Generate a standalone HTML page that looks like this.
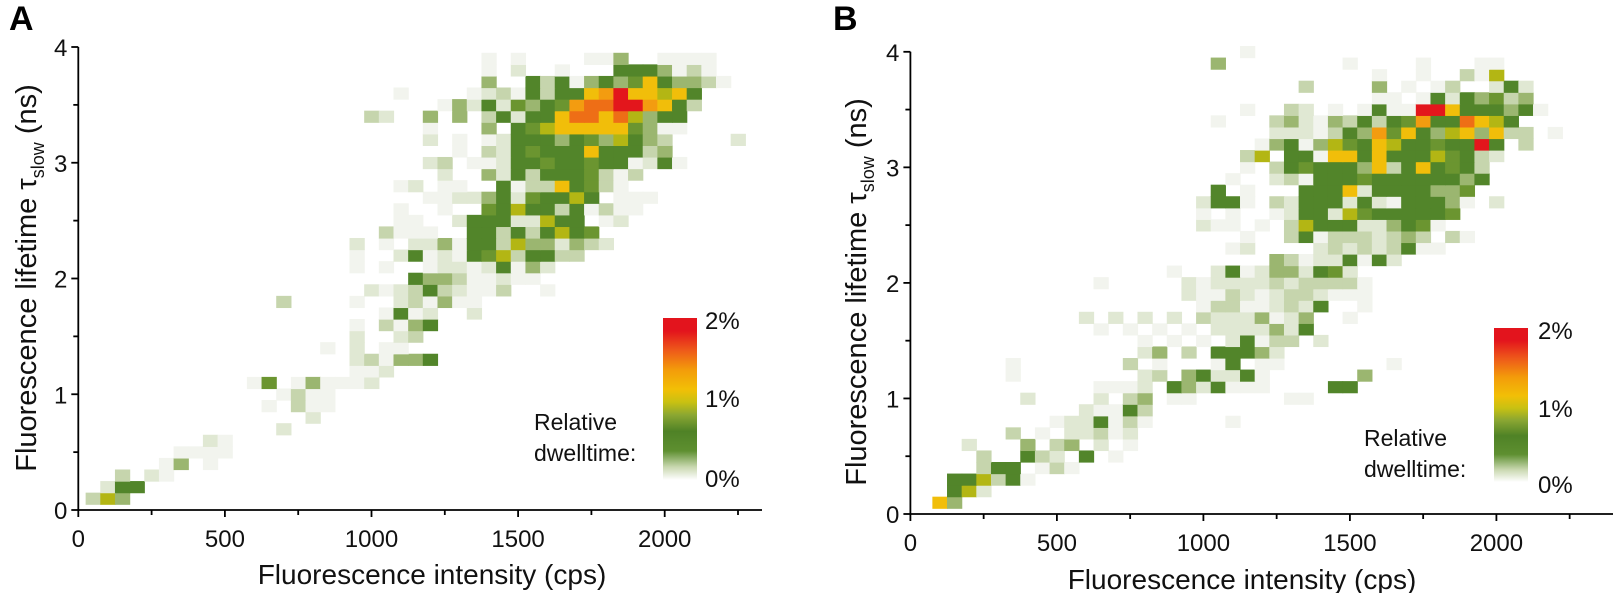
<!DOCTYPE html>
<html><head><meta charset="utf-8"><style>
html,body{margin:0;padding:0;background:#fff;}
svg{display:block;font-family:"Liberation Sans",Arial,sans-serif;}
</style></head><body>
<svg id="s" width="1613" height="593" viewBox="0 0 1613 593" xmlns="http://www.w3.org/2000/svg">
<defs>
<linearGradient id="cb" x1="0" y1="1" x2="0" y2="0">
<stop offset="0" stop-color="#ffffff"/>
<stop offset="0.08" stop-color="#c9d8b0"/>
<stop offset="0.18" stop-color="#5e8f30"/>
<stop offset="0.30" stop-color="#4f8226"/>
<stop offset="0.40" stop-color="#8aa632"/>
<stop offset="0.48" stop-color="#c8c112"/>
<stop offset="0.56" stop-color="#f2bf06"/>
<stop offset="0.68" stop-color="#f39c0a"/>
<stop offset="0.80" stop-color="#ee5a1a"/>
<stop offset="0.92" stop-color="#e3141d"/>
<stop offset="1" stop-color="#e3141d"/>
</linearGradient>
</defs>
<g id="cellsA"></g><g id="cellsB"></g>
<g id="axes" stroke="#000" stroke-width="1.8" fill="none"></g>
<g id="txt" fill="#111"></g>
<text x="9" y="30" font-size="34" font-weight="bold" fill="#000">A</text>
<text x="833" y="30" font-size="34" font-weight="bold" fill="#000">B</text>
<rect x="663" y="318" width="34" height="162" fill="url(#cb)"/>
<rect x="1494" y="328" width="34" height="154" fill="url(#cb)"/>
<g font-size="24" fill="#111">
<text x="705" y="329">2%</text><text x="705" y="407">1%</text><text x="705" y="487">0%</text>
<text x="534" y="430" font-size="23">Relative</text><text x="534" y="461" font-size="23">dwelltime:</text>
<text x="1538" y="339">2%</text><text x="1538" y="417">1%</text><text x="1538" y="493">0%</text>
<text x="1364" y="446" font-size="23">Relative</text><text x="1364" y="477" font-size="23">dwelltime:</text>
</g>
<text x="432" y="584" font-size="28" text-anchor="middle" fill="#111">Fluorescence intensity (cps)</text>
<text x="1242" y="589" font-size="28" text-anchor="middle" fill="#111">Fluorescence intensity (cps)</text>
<text transform="translate(36,278) rotate(-90)" font-size="29" text-anchor="middle" fill="#111">Fluorescence lifetime τ<tspan font-size="18" dy="8">slow</tspan><tspan dy="-8"> (ns)</tspan></text>
<text transform="translate(866,292) rotate(-90)" font-size="29" text-anchor="middle" fill="#111">Fluorescence lifetime τ<tspan font-size="18" dy="8">slow</tspan><tspan dy="-8"> (ns)</tspan></text>
</svg>
<script>
var C={'.':'#f2f4ee',':':'#e0e8d3','-':'#c6d5ad','+':'#9bb670','g':'#6b9530','G':'#52852a','y':'#b3b614','Y':'#f1be0a','o':'#f39c10','O':'#ee6e16','r':'#e3161c'};
var A={39:"28. 30. 35. 36. 37+ 40. 41. 42. 43.",38:"28. 30: 33. 37G 38G 39G 40+ 41. 42- 43.",37:"28+ 31G 32- 33G 34. 35+ 36G 37+ 38g 39Y 40G 41+ 42+ 43- 44.",36:"22. 27. 28: 29- 30. 31G 32- 33G 34G 35Y 36o 37r 38Y 39Y 40y 41Y 42G",35:"25. 26+ 27: 28G 29: 30g 31+ 32G 33g 34o 35O 36O 37r 38r 39o 40Y 41G 42-",34:"20- 21: 24+ 26+ 28- 29G 30: 31G 32G 33Y 34O 35O 36Y 37O 38y 39+ 40G 41G",33:"24. 28+ 30G 31g 32y 33Y 34Y 35Y 36Y 37Y 38g 39+ 40. 41.",32:"24: 26. 28. 29: 30G 31G 32G 33+ 34G 35g 36+ 37y 38G 39+ 40- 45:",31:"26. 28- 29: 30G 31g 32G 33G 34G 35Y 36G 37G 38G 39- 40+",30:"24: 25- 27. 28. 29: 30G 31G 32g 33G 34G 35g 36G 37G 38. 39: 40G 41.",29:"25: 28+ 29: 30G 31- 32G 33G 34G 35g 36- 37. 38-",28:"22. 23: 25. 26. 29G 30. 31- 32- 33Y 34G 35g 36- 37.",27:"24. 25. 26: 27: 28+ 29G 30: 31g 32G 33G 34y 35G 37. 38. 39.",26:"22. 25. 28g 29G 30y 31G 32G 33- 34G 35. 36- 37. 38.",25:"22. 23. 26: 27G 28G 29G 30: 31: 32y 33G 34G 36. 37:",24:"21- 22. 23. 24. 27G 28G 29- 30G 31- 32G 33y 34G 35g",23:"19: 21. 23: 24: 25+ 26. 27G 28G 29- 30y 31+ 32+ 33: 34+ 35- 36:",22:"19. 22: 23G 24. 25: 26. 27G 28g 29y 30- 31G 32G 33- 34-",21:"19. 21. 24. 25: 26: 27. 28: 29G 30. 31+ 32:",20:"23G 24+ 25+ 26- 27. 28. 29: 30. 31.",19:"20: 21. 22: 23- 24G 25- 26: 27. 28. 29- 32.",18:"14- 19. 22: 23- 24. 25+ 26. 27.",17:"21. 22G 23. 24: 27:",16:"19. 21- 22. 23+ 24G",15:"19: 22: 23-",14:"17. 19: 21. 22.",13:"19: 20- 21. 22+ 23+ 24G",12:"19. 20. 21:",11:"12. 13g 15. 16+ 17. 18. 19. 20:",10:"14. 15- 16. 17.",9:"13. 15- 16. 17.",8:"16:",7:"14:",6:"9: 10.",5:"7. 8. 9. 10.",4:"6. 7+ 9.",3:"3- 5: 6.",2:"2: 3G 4G",1:"1- 2y 3+"};
var B={40:"23.",39:"21+ 30. 35. 39. 40.",38:"32. 35. 38- 39. 40y",37:"27- 32+ 34. 36. 37- 40: 41G 42:",36:"32. 33. 35. 36G 37: 38G 39+ 40g 41- 42+",35:"23. 26- 27: 29. 31. 32G 33. 34. 35r 36r 37Y 38G 39G 40G 41+ 42G 43.",34:"21. 25- 26+ 27: 28. 29+ 30- 31G 32- 33G 34g 35o 36G 37G 38O 39Y 40y 41G",33:"25: 26: 27: 28. 29- 30G 31+ 32o 33g 34Y 35G 36+ 37y 38Y 39+ 40Y 41- 42- 44.",32:"24. 25+ 26G 27. 28+ 29y 30g 31G 32Y 33y 34G 35G 36g 37G 38G 39r 40G 42-",31:"23- 24y 26G 27G 28. 29Y 30Y 31G 32Y 33G 34G 35G 36y 37g 38G 39- 40:",30:"23. 25- 26G 27g 28G 29G 30G 31+ 32Y 33- 34G 35Y 36G 37g 38G 39-",29:"22. 25: 26- 27. 28G 29G 30G 31g 32G 33G 34G 35G 36G 37G 38+ 39G",28:"21G 23. 27G 28G 29G 30Y 31: 32G 33G 34G 35G 36+ 37+ 38g",27:"20: 21G 22G 23. 25- 26: 27G 28G 29G 30: 31G 32: 33. 34G 35G 36G 37+ 38. 40:",26:"20. 22. 25. 26: 27G 28G 29: 30y 31g 32G 33G 34G 35G 36G 37g",25:"20: 21. 22. 24. 26- 27y 28G 29G 30G 31: 32: 33+ 34G 35g 36.",24:"23. 26- 27G 28. 29- 30- 31- 32: 33- 34+ 35- 37- 38.",23:"22. 23: 28: 29- 30: 31- 32: 33- 34G 35. 36.",22:"25+ 26- 27. 28: 29: 30G 31. 32G 33:",21:"18. 21: 22G 23. 24: 25+ 26+ 27: 28G 29g 30:",20:"13. 19: 20. 21: 22: 23: 24: 25- 26: 27- 28- 29- 30- 31.",19:"19: 20. 21. 22- 23: 24. 25: 26- 27- 28: 29. 30. 31.",18:"20. 21- 22- 23. 24. 25: 26- 27: 28G 31.",17:"12: 14: 16: 18: 20- 21: 22: 23: 24+ 25. 26: 27+ 30.",16:"13. 15. 17. 19. 21: 22: 23: 24: 25+ 26: 27G",15:"16. 18. 20. 22: 23G 24. 25- 26- 28:",14:"16: 17+ 19- 21G 22G 23G 24+ 25:",13:"7. 15- 17. 21. 22G 24. 25. 33.",12:"7. 16: 17- 19+ 20G 21: 22: 23G 24. 31+",11:"13. 14. 15. 16: 18G 19+ 20: 21G 22. 23. 24. 29G 30G",10:"8: 13: 15- 16+ 18. 19. 26. 27.",9:"12: 13. 14. 15G 16-",8:"10. 11: 12: 13G 14. 15- 16. 22.",7:"7- 9. 11: 12: 13- 14. 15:",6:"4: 8+ 10- 11+ 13: 15.",5:"5- 8G 9- 10: 12G 14.",4:"5- 6G 7G 9. 10- 11.",3:"3G 4G 5y 6- 7G 8.",2:"3G 4y 5:",1:"2Y 3+"};
var NS="http://www.w3.org/2000/svg";
function el(p,t,a){var e=document.createElementNS(NS,t);for(var k in a)e.setAttribute(k,a[k]);p.appendChild(e);return e;}
function cells(g,data,x0,xs,y0,ys){for(var j in data){data[j].split(" ").forEach(function(tok){var m=tok.match(/(\d+)(.)/);if(!m)return;var i=+m[1];var cx=x0+xs*50*i,cy=y0-ys*0.1*j;el(g,'rect',{x:(cx-xs*25).toFixed(2),y:(cy-ys*0.05).toFixed(2),width:(xs*50+0.6).toFixed(2),height:(ys*0.1+0.6).toFixed(2),fill:C[m[2]]});});}}
var ax=document.getElementById('axes'),tx=document.getElementById('txt');
function axes(x0,xs,y0,ys,xend){
 el(ax,'line',{x1:x0,y1:y0,x2:xend,y2:y0});
 el(ax,'line',{x1:x0,y1:y0,x2:x0,y2:y0-4*ys});
 for(var v=0;v<=2250;v+=250){var x=x0+v*xs;el(ax,'line',{x1:x,y1:y0,x2:x,y2:y0+(v%500?5:7)});
  if(v%500==0){var t=el(tx,'text',{x:x,y:y0+37,'font-size':24,'text-anchor':'middle'});t.textContent=v;}}
 for(var k=0;k<=8;k++){var y=y0-k*0.5*ys;el(ax,'line',{x1:x0,y1:y,x2:x0-(k%2?5:7),y2:y});
  if(k%2==0){var t=el(tx,'text',{x:x0-11,y:y+9,'font-size':24,'text-anchor':'end'});t.textContent=k/2;}}
}
var xsA=146.6/500,ysA=(510-47)/4,xsB=146.5/500,ysB=(514-51.8)/4;
cells(document.getElementById('cellsA'),A,78.3,xsA,510,ysA);
cells(document.getElementById('cellsB'),B,910.4,xsB,514,ysB);
axes(78.3,xsA,510,ysA,762);
axes(910.4,xsB,514,ysB,1613);
</script>
</body></html>
